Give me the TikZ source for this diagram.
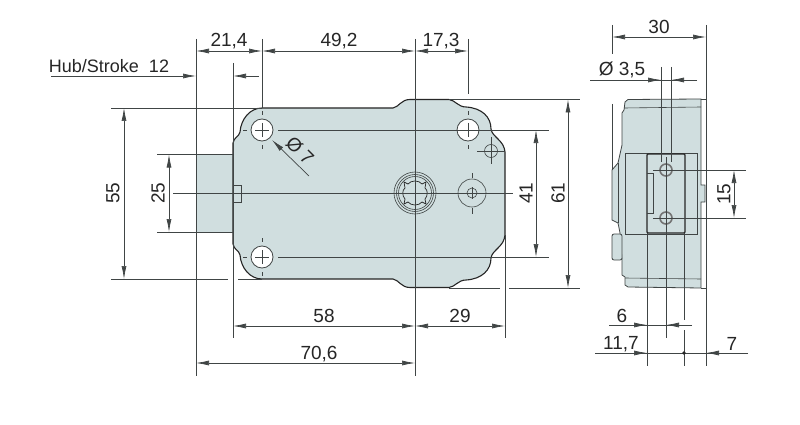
\documentclass[tikz,border=0pt]{standalone}
\usepackage{fontspec}
\setmainfont{Liberation Sans}
\usetikzlibrary{arrows.meta}
\definecolor{bodyfill}{HTML}{D0DEDF}
\definecolor{dimgrey}{HTML}{404545}
\tikzset{
	dimline/.style={line width=0.7pt, color=dimgrey},
	dimboth/.style={dimline, {Latex[length=13pt,width=5pt]}-{Latex[length=13pt,width=5pt]}},
	dimend/.style={dimline, -{Latex[length=13pt,width=5pt]}},
	edge/.style={line width=1.1pt, color=black!85},
	thinedge/.style={line width=0.6pt, color=dimgrey},
	label/.style={font=\fontsize{19}{19}\selectfont, color=black!85, inner sep=0pt},
}
\begin{document}
\begin{tikzpicture}[x=1pt, y=-1pt]
			%%%%% START %%%%%
			\useasboundingbox (0, 0) rectangle (800, 425);
			\fill[white] (0, 0) rectangle (800, 425);
			
			% bolt
			\draw[thinedge, fill=bodyfill] (196, 154.5) rectangle (233, 232);
			
			% case, front view
			\draw[edge, fill=bodyfill] (233, 232) -- (233, 244) .. controls (234, 250) and (239, 250) .. (240, 255)
				.. controls (241, 268) and (250, 279) .. (262, 279) -- (393, 279)
				.. controls (399, 280) and (401, 287.5) .. (410, 287.5) -- (449, 287.5)
				.. controls (455, 287) and (458, 280) .. (466, 280)
				.. controls (482, 279) and (491, 270) .. (491, 258)
				.. controls (492, 250) and (504, 247) .. (505, 235)
				-- (505, 152)
				.. controls (504, 140) and (492, 137) .. (491, 129)
				.. controls (491, 117) and (482, 108) .. (466, 107)
				.. controls (458, 107) and (455, 100) .. (449, 99.5) -- (410, 99.5)
				.. controls (401, 99.5) and (399, 107) .. (393, 108) -- (262, 108)
				.. controls (250, 108) and (241, 119) .. (240, 132)
				.. controls (239, 137) and (234, 137) .. (233, 143) -- cycle;
			\draw[thinedge] (233, 185) -- (241, 185) -- (241, 202) -- (233, 202);
			
			% holes
			\foreach \hx/\hy in {262/130, 468/130, 262/257} {
				\draw[thinedge, fill=white, line width=0.8pt] (\hx, \hy) circle (11);
				\draw[thinedge] (\hx, \hy-7) -- (\hx, \hy+7);
				\draw[thinedge] (\hx-7, \hy) -- (\hx+7, \hy);
				\draw[thinedge] (\hx, \hy-19) -- (\hx, \hy-15);
				\draw[thinedge] (\hx, \hy+15) -- (\hx, \hy+19);
				\draw[thinedge] (\hx-19, \hy) -- (\hx-15, \hy);
			}
			\draw[thinedge] (491, 151) circle (6.5);
			\draw[thinedge] (477, 151) -- (505, 151);
			\draw[thinedge] (491, 137) -- (491, 164);
			
			% spindle and screw
			\draw[thinedge] (415, 193) circle (21);
			\draw[thinedge] (415, 193) circle (18.5);
			\draw[thinedge] (415, 193) circle (16.5);
			\draw[edge, line width=0.7pt] (404, 182) -- (408, 184) .. controls (411, 180) and (419, 180) .. (422, 184) -- (426, 182)
				-- (425, 188) .. controls (428, 190) and (428, 196) .. (425, 199) -- (426, 204)
				-- (422, 202) .. controls (419, 206) and (411, 206) .. (408, 202) -- (404, 204)
				-- (405, 199) .. controls (402, 196) and (402, 190) .. (405, 188) -- cycle;
			\draw[thinedge] (472, 193) circle (14);
			\draw[thinedge] (472, 193) circle (5);
			\draw[thinedge] (472, 173) -- (472, 178);
			\draw[thinedge] (472, 187) -- (472, 199);
			\draw[thinedge] (472, 208) -- (472, 214);
			
			% center lines and extension lines, front view
			\draw[dimline] (173, 193) -- (513, 193);
			\draw[dimline] (415, 39) -- (415, 376);
			\draw[dimline] (196, 39) -- (196, 376);
			\draw[dimline] (262, 39) -- (262, 108);
			\draw[dimline] (233, 63) -- (233, 338);
			\draw[dimline] (468, 39) -- (468, 94);
			\draw[dimline] (505, 235) -- (505, 338);
			\draw[dimline] (111, 108) -- (262, 108);
			\draw[dimline] (111, 279) -- (228, 279);
			\draw[dimline] (238, 279) -- (262, 279);
			\draw[dimline] (157, 154.5) -- (233, 154.5);
			\draw[dimline] (157, 232) -- (233, 232);
			\draw[dimline] (278, 130) -- (549, 130);
			\draw[dimline] (278, 257) -- (549, 257);
			\draw[dimline] (449, 99.5) -- (580, 99.5);
			\draw[dimline] (449, 288) -- (500, 288);
			\draw[dimline] (509, 288) -- (580, 288);
			
			% dimensions, front view
			\draw[dimboth] (196, 51) -- (262, 51);
			\draw[dimboth] (262, 51) -- (415, 51);
			\draw[dimboth] (415, 51) -- (468, 51);
			\draw[dimend] (51, 76) -- (196, 76);
			\draw[dimend] (259, 76) -- (233, 76);
			\draw[dimboth] (124, 108) -- (124, 279);
			\draw[dimboth] (169, 154.5) -- (169, 232);
			\draw[dimboth] (536, 130) -- (536, 257);
			\draw[dimboth] (568, 99.5) -- (568, 288);
			\draw[dimboth] (233, 326) -- (415, 326);
			\draw[dimboth] (415, 326) -- (505, 326);
			\draw[dimboth] (196, 363) -- (415, 363);
			\draw[dimend] (309, 176) -- (272, 140);
			
			\node[label, font=\fontsize{18}{18}\selectfont] (hub) at (109, 66) {Hub/Stroke\ \ 12};
			\node[label] (d214) at (229, 41) {21,4};
			\node[label] (d492) at (339, 41) {49,2};
			\node[label] (d173) at (441, 41) {17,3};
			\node[label, rotate=90] (d55) at (113, 193) {55};
			\node[label, rotate=90] (d25) at (158, 193) {25};
			\node[label, rotate=90] (d41) at (526, 193) {41};
			\node[label, rotate=90] (d61) at (558, 193) {61};
			\node[label, rotate=-45] (d7) at (300, 151) {Ø 7};
			\node[label] (d58) at (324, 316) {58};
			\node[label] (d29) at (460, 316) {29};
			\node[label] (d706) at (319, 354) {70,6};
			
			% case, side view
			\draw[thinedge, line width=0.8pt, fill=bodyfill] (628, 99.5) -- (701, 99) -- (701, 185) -- (705, 185) -- (705, 202) -- (701, 202) -- (701, 288) -- (628, 287)
				-- (625, 285) -- (625, 277) -- (622, 275) -- (622, 260) -- (620, 233) -- (618, 223) -- (612, 220)
				-- (612, 170) -- (618, 163) -- (622, 145) -- (622, 113) -- (624, 110) -- (625, 102) -- cycle;
			\draw[thinedge, line width=0.8pt, fill=bodyfill, rounded corners=2pt] (612, 234) rectangle (622, 260);
			\draw[thinedge] (624, 108) -- (701, 107);
			\draw[thinedge] (625, 278) -- (701, 279);
			\draw[thinedge] (701, 99) -- (706, 99);
			\draw[thinedge] (701, 288) -- (706, 288);
			\draw[thinedge] (618, 163) -- (618, 223);
			\draw[thinedge] (625, 153) -- (625, 234);
			\draw[thinedge] (625, 153) -- (697, 153) -- (697, 234) -- (625, 234);
			\draw[edge, rounded corners=1pt] (647, 154) rectangle (685, 233);
			\draw[thinedge] (647, 173) -- (653, 173) -- (653, 213) -- (647, 213);
			\foreach \hy in {170, 218} {
				\draw[color=black!55, line width=1.6pt] (666, \hy) circle (6);
			}
			
			% extension lines, side view
			\draw[dimline] (612, 25) -- (612, 54);
			\draw[dimline] (612, 104) -- (612, 170);
			\draw[dimline] (706, 25) -- (706, 366);
			\draw[dimline] (661, 67) -- (661, 162);
			\draw[dimline] (671, 67) -- (671, 162);
			\draw[dimline] (666, 157) -- (666, 338);
			\draw[dimline] (647, 233) -- (647, 366);
			\draw[dimline] (684, 233) -- (684, 320);
			\draw[dimline] (684, 330) -- (684, 366);
			\draw[dimline] (653, 170) -- (746, 170);
			\draw[dimline] (653, 218) -- (746, 218);
			
			% dimensions, side view
			\draw[dimboth] (612, 37) -- (706, 37);
			\draw[dimline] (590, 80) -- (697, 80);
			\draw[dimend] (590, 80) -- (661, 80);
			\draw[dimend] (697, 80) -- (671, 80);
			\draw[dimboth] (734, 170) -- (734, 218);
			\draw[dimline] (609, 325) -- (692, 325);
			\draw[dimend] (609, 325) -- (647, 325);
			\draw[dimend] (692, 325) -- (666, 325);
			\draw[dimline] (595, 353) -- (748, 353);
			\draw[dimend] (595, 353) -- (647, 353);
			\draw[dimend] (748, 353) -- (706, 353);
			\fill[black!85] (684, 353) circle (1.8);
			
			\node[label] (d30) at (659, 27) {30};
			\node[label] (d35) at (622, 70) {Ø 3,5};
			\node[label, rotate=90] (d15) at (724, 194) {15};
			\node[label] (d6) at (622, 316) {6};
			\node[label] (d117) at (621, 344) {11,7};
			\node[label] (d77) at (732, 344) {7};
			%%%%% END %%%%%
		\end{tikzpicture}
\end{document}
